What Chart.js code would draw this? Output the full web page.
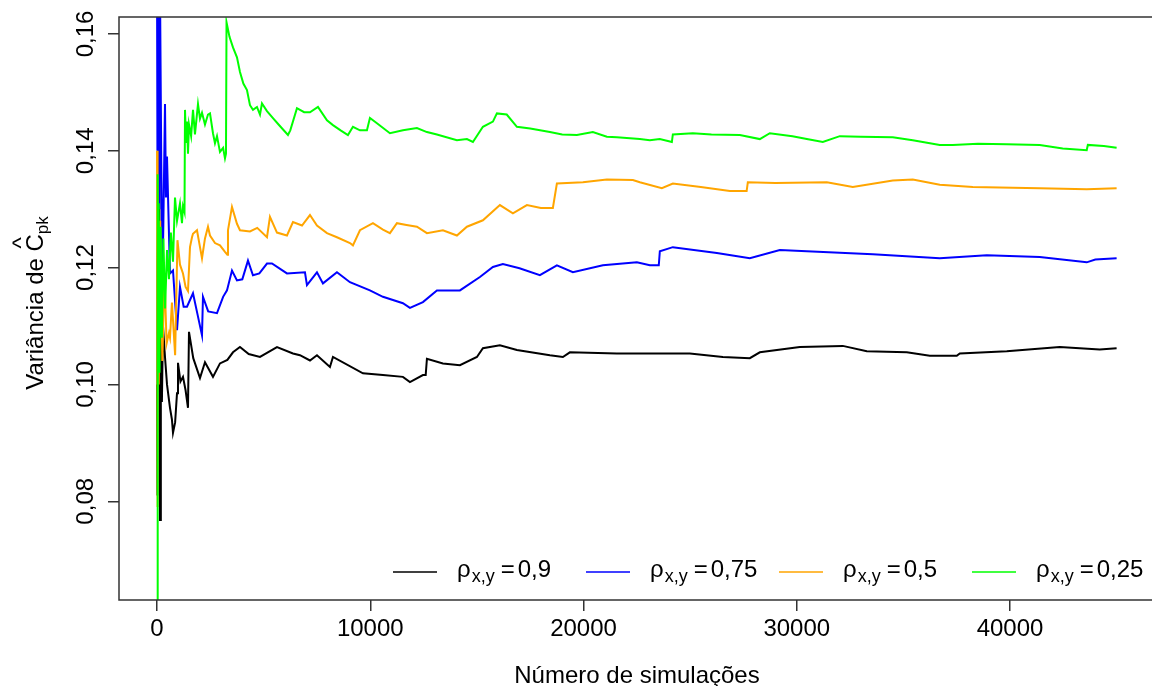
<!DOCTYPE html>
<html>
<head>
<meta charset="utf-8">
<script src="https://cdn.jsdelivr.net/npm/chart.js@4.4.0/dist/chart.umd.min.js"></script>
<style>
  html, body { margin: 0; padding: 0; background: #fff; overflow: hidden; }
  #wrap { width: 1152px; height: 686px; }
</style>
</head>
<body>
<div id="wrap"><canvas id="cpk-chart" width="1152" height="686"></canvas></div>
<script>
// Running variance of the Cpk estimator, one series per correlation level
const rhoLabels = ['0,9', '0,75', '0,5', '0,25'];
const lineColors = ['#000000', '#0000ff', '#ffa500', '#00ff00'];

const simsBlack = [1, 10, 30, 70, 100, 141, 180, 230, 281, 375, 469, 609, 700, 750, 850, 938, 984, 1100, 1219, 1340,
  1453, 1500, 1700, 2016, 2250, 2625, 2953, 3300, 3563, 3891, 4300, 4829, 5626, 6376, 6704, 7173, 7501, 8110, 8251, 9657,
  10595, 11532, 11861, 12470, 12600, 12658, 13408, 14205, 15002, 15283, 16080, 16877, 18424, 19033, 19361, 21565, 23112, 24987, 26534, 27800,
  28269, 30144, 32160, 33285, 35160, 36238, 37504, 37645, 39848, 42333, 44207, 45000];
const varBlack = [0.100, 0.081, 0.121, 0.140, 0.158, 0.0768, 0.118, 0.097, 0.110, 0.1047, 0.100, 0.096, 0.094, 0.0917, 0.0935, 0.0985, 0.1037, 0.1005, 0.1013, 0.099,
  0.096, 0.109, 0.1045, 0.1011, 0.1038, 0.1013, 0.1036, 0.1042, 0.1055, 0.1064, 0.1052, 0.1047, 0.1064, 0.1053, 0.105, 0.1041, 0.105, 0.103, 0.1047, 0.1019,
  0.1016, 0.1013, 0.1004, 0.1016, 0.1016, 0.1044, 0.1036, 0.1033, 0.1047, 0.1062, 0.1067, 0.1059, 0.105, 0.1047, 0.1055, 0.1053, 0.1053, 0.1053, 0.1047, 0.1045,
  0.1055, 0.1064, 0.1066, 0.1057, 0.1055, 0.1049, 0.1049, 0.1053, 0.1057, 0.1064, 0.106, 0.1062];

const simsBlue = [1, 20, 60, 110, 141, 200, 260, 300, 375, 420, 469, 609, 750, 938, 1078, 1250, 1406, 1688, 1900, 2110,
  2156, 2400, 2813, 3100, 3282, 3516, 3750, 4000, 4266, 4500, 4800, 5157, 5391, 6094, 6938, 7032, 7501, 7782, 8438, 9048,
  9985, 10595, 11532, 11861, 12470, 13126, 14205, 15142, 15752, 16220, 17000, 17955, 18752, 19502, 20908, 22502, 23112, 23530, 23580, 24190,
  26253, 27800, 29206, 30472, 33566, 36707, 38910, 41395, 43598, 44000, 45000];
const varBlue = [0.170, 0.140, 0.168, 0.130, 0.168, 0.138, 0.118, 0.128, 0.148, 0.132, 0.139, 0.119, 0.1195, 0.1093, 0.1167, 0.1133, 0.1133, 0.1156, 0.112, 0.1084,
  0.115, 0.1125, 0.1122, 0.115, 0.1161, 0.1195, 0.1178, 0.118, 0.1212, 0.1187, 0.119, 0.1207, 0.1207, 0.119, 0.1192, 0.117, 0.1192, 0.1173, 0.1192, 0.1175,
  0.1161, 0.115, 0.1139, 0.1131, 0.1141, 0.1161, 0.1161, 0.1184, 0.1201, 0.1206, 0.1199, 0.1187, 0.1204, 0.1192, 0.1204, 0.1209, 0.1204, 0.1204, 0.1228, 0.1235,
  0.1225, 0.1216, 0.123, 0.1228, 0.1223, 0.1216, 0.1221, 0.1218, 0.1209, 0.1214, 0.1216];

const simsOrange = [1, 15, 40, 80, 150, 250, 350, 450, 560, 609, 700, 750, 850, 960, 1078, 1219, 1340, 1453, 1547, 1641,
  1688, 1875, 2016, 2110, 2250, 2391, 2485, 2719, 2953, 3188, 3300, 3328, 3516, 3750, 3891, 4360, 4700, 5157, 5297, 5626,
  6094, 6376, 6800, 7173, 7501, 7970, 8438, 9048, 9188, 9517, 10126, 10595, 10923, 11251, 11700, 12189, 12658, 13408, 14064, 14533,
  15283, 16080, 16689, 17346, 18000, 18564, 18752, 19971, 21096, 22315, 22643, 23674, 24190, 25500, 26863, 27650, 27706, 29000, 31410, 32628,
  34504, 35441, 36707, 38254, 41395, 43598, 45000];
const varOrange = [0.140, 0.079, 0.134, 0.100, 0.128, 0.104, 0.119, 0.107, 0.1088, 0.108, 0.114, 0.111, 0.105, 0.1247, 0.1205, 0.119, 0.1167, 0.116, 0.1235, 0.1252,
  0.1258, 0.1264, 0.1235, 0.1216, 0.125, 0.127, 0.1255, 0.1242, 0.1238, 0.1227, 0.1222, 0.1264, 0.1304, 0.1275, 0.1264, 0.1262, 0.1268, 0.1252, 0.1287, 0.126,
  0.1255, 0.1278, 0.1272, 0.129, 0.1272, 0.1259, 0.1252, 0.1242, 0.1238, 0.1264, 0.1276, 0.1265, 0.1259, 0.1276, 0.1273, 0.127, 0.1259, 0.1264, 0.1255, 0.127,
  0.1281, 0.1307, 0.1293, 0.1307, 0.1302, 0.1302, 0.1344, 0.1346, 0.1351, 0.135, 0.1346, 0.1336, 0.1344, 0.1338, 0.1331, 0.1331, 0.1346, 0.1345, 0.1346, 0.1338,
  0.1349, 0.1351, 0.1342, 0.1338, 0.1336, 0.1334, 0.1336];

const simsGreen = [1, 20, 45, 80, 120, 170, 230, 300, 380, 470, 560, 650, 750, 844, 938, 1078, 1172, 1219, 1290, 1313,
  1360, 1406, 1453, 1500, 1600, 1688, 1780, 1922, 2016, 2110, 2250, 2391, 2485, 2625, 2719, 2813, 2953, 3100, 3188, 3235,
  3260, 3400, 3563, 3750, 3891, 4050, 4219, 4360, 4500, 4688, 4829, 4922, 5157, 5438, 5700, 6141, 6250, 6563, 6900, 7173,
  7548, 7970, 8251, 8610, 8954, 9188, 9517, 9845, 9985, 10314, 10923, 11532, 12189, 12658, 13126, 14064, 14533, 14814, 15283, 15752,
  15939, 16400, 16877, 17500, 18424, 19000, 19690, 20439, 21096, 21565, 22643, 23112, 23580, 24143, 24190, 25128, 26000, 27331, 28269, 28737,
  29800, 30472, 31222, 32019, 33000, 34504, 35441, 35910, 36707, 37316, 38500, 39848, 41395, 42473, 43598, 43650, 44400, 45000];
const varGreen = [0.055, 0.136, 0.098, 0.131, 0.102, 0.127, 0.108, 0.125, 0.113, 0.123, 0.118, 0.126, 0.121, 0.132, 0.128, 0.131, 0.1276, 0.1305, 0.1295, 0.147,
  0.1415, 0.145, 0.1395, 0.1445, 0.1425, 0.147, 0.1428, 0.148, 0.1455, 0.1465, 0.1445, 0.1462, 0.1464, 0.143, 0.1413, 0.1425, 0.1398, 0.1405, 0.1387, 0.1395,
  0.162, 0.1595, 0.1577, 0.156, 0.1535, 0.1515, 0.1504, 0.1478, 0.147, 0.1475, 0.1462, 0.1481, 0.1468, 0.1456, 0.1445, 0.1427, 0.1435, 0.1473, 0.1466, 0.1466,
  0.1475, 0.1452, 0.1444, 0.1435, 0.1427, 0.1441, 0.1435, 0.1435, 0.1456, 0.1447, 0.143, 0.1435, 0.1439, 0.1432, 0.1428, 0.1418, 0.142, 0.1415, 0.1441, 0.145,
  0.1464, 0.1462, 0.1441, 0.1438, 0.1432, 0.1428, 0.1427, 0.1432, 0.1424, 0.1423, 0.142, 0.1418, 0.142, 0.1415, 0.1428, 0.143, 0.1428, 0.1427, 0.142, 0.143,
  0.1425, 0.142, 0.1415, 0.1425, 0.1424, 0.1423, 0.1418, 0.1415, 0.141, 0.141, 0.1412, 0.1411, 0.141, 0.1404, 0.1401, 0.141, 0.1408, 0.1405];

const xTicks = [0, 10000, 20000, 30000, 40000];
const yTicks = [0.08, 0.10, 0.12, 0.14, 0.16];

const FONT = '"Liberation Sans", Arial, sans-serif';
const AXIS_COLOR = '#333333';

function toPoints(xs, ys) {
  return xs.map((x, i) => ({ x: x, y: ys[i] }));
}

// titles, rotated y labels, the frame and the legend are drawn by hand
const extrasPlugin = {
  id: 'extras',
  afterDraw(chart) {
    const ctx = chart.ctx;
    const area = chart.chartArea;
    const yScale = chart.scales.y;
    ctx.save();

    // frame: left, top and bottom (the right side falls past the canvas edge)
    ctx.strokeStyle = AXIS_COLOR;
    ctx.lineWidth = 1.5;
    ctx.beginPath();
    ctx.moveTo(area.right, area.top);
    ctx.lineTo(area.left, area.top);
    ctx.lineTo(area.left, area.bottom);
    ctx.lineTo(area.right, area.bottom);
    ctx.stroke();

    ctx.fillStyle = '#000';
    ctx.font = '24px ' + FONT;
    ctx.textAlign = 'center';
    ctx.textBaseline = 'alphabetic';
    yTicks.forEach(v => {
      const py = yScale.getPixelForValue(v);
      ctx.save();
      ctx.translate(area.left - 26, py);
      ctx.rotate(-Math.PI / 2);
      ctx.fillText(v.toFixed(2).replace('.', ','), 0, 0);
      ctx.restore();
    });

    // x title
    ctx.fillText('Número de simulações', 637, 683);

    // y title: "Variância de C^pk"
    ctx.save();
    ctx.translate(43, 303);
    ctx.rotate(-Math.PI / 2);
    ctx.textAlign = 'left';
    ctx.font = '24px ' + FONT;
    const main = 'Variância de ';
    const wMain = ctx.measureText(main).width;
    const wC = ctx.measureText('C').width;
    ctx.font = '17px ' + FONT;
    const wSub = ctx.measureText('pk').width;
    let tx = -(wMain + wC + wSub) / 2;
    ctx.font = '24px ' + FONT;
    ctx.fillText(main, tx, 0);
    tx += wMain;
    ctx.fillText('C', tx, 0);
    ctx.textAlign = 'center';
    ctx.fillText('^', tx + wC / 2, -14);
    ctx.textAlign = 'left';
    tx += wC;
    ctx.font = '17px ' + FONT;
    ctx.fillText('pk', tx, 5);
    ctx.restore();

    // legend along the bottom of the plot
    const ly = area.bottom - 28;
    rhoLabels.forEach((lab, i) => {
      const x0 = area.left + 274 + i * 193;
      ctx.strokeStyle = lineColors[i];
      ctx.lineWidth = 1.5;
      ctx.beginPath();
      ctx.moveTo(x0, ly);
      ctx.lineTo(x0 + 44, ly);
      ctx.stroke();
      ctx.fillStyle = '#000';
      ctx.textAlign = 'left';
      let x = x0 + 64;
      ctx.font = '24px ' + FONT;
      ctx.fillText('ρ', x, ly + 5);
      x += ctx.measureText('ρ').width + 1;
      ctx.font = '18px ' + FONT;
      ctx.fillText('x,y', x, ly + 10);
      x += ctx.measureText('x,y').width + 6;
      ctx.font = '24px ' + FONT;
      ctx.fillText('=', x, ly + 5);
      x += ctx.measureText('=').width + 3;
      ctx.fillText(lab, x, ly + 5);
    });
    ctx.restore();
  }
};

const ctx = document.getElementById('cpk-chart').getContext('2d');
const chart = new Chart(ctx, {
  type: 'line',
  data: {
    datasets: [
      { data: toPoints(simsBlack, varBlack), borderColor: lineColors[0], order: 4 },
      { data: toPoints(simsBlue, varBlue), borderColor: lineColors[1], order: 3 },
      { data: toPoints(simsOrange, varOrange), borderColor: lineColors[2], order: 2 },
      { data: toPoints(simsGreen, varGreen), borderColor: lineColors[3], order: 1 }
    ]
  },
  options: {
    responsive: false,
    devicePixelRatio: 1,
    animation: false,
    layout: { padding: { top: 17, right: 0, left: 0, bottom: 0 } },
    elements: {
      line: { borderWidth: 2, tension: 0, fill: false },
      point: { radius: 0 }
    },
    plugins: {
      legend: { display: false },
      tooltip: { enabled: false }
    },
    scales: {
      x: {
        type: 'linear',
        min: -1782,
        max: 46659,
        afterFit(scale) { scale.height = 86; },
        afterBuildTicks(scale) { scale.ticks = xTicks.map(v => ({ value: v })); },
        grid: { display: true, drawOnChartArea: false, drawTicks: true, tickLength: 11, color: AXIS_COLOR, lineWidth: 1.5 },
        border: { display: false },
        ticks: { font: { family: FONT, size: 24 }, color: '#000', padding: 4, maxRotation: 0, autoSkip: false,
          callback: v => String(v) }
      },
      y: {
        type: 'linear',
        min: 0.0631,
        max: 0.1629,
        afterFit(scale) { scale.width = 119; },
        afterBuildTicks(scale) { scale.ticks = yTicks.map(v => ({ value: v })); },
        grid: { display: true, drawOnChartArea: false, drawTicks: true, tickLength: 11, color: AXIS_COLOR, lineWidth: 1.5 },
        border: { display: false },
        ticks: { display: false }
      }
    }
  },
  plugins: [extrasPlugin]
});
</script>
</body>
</html>
